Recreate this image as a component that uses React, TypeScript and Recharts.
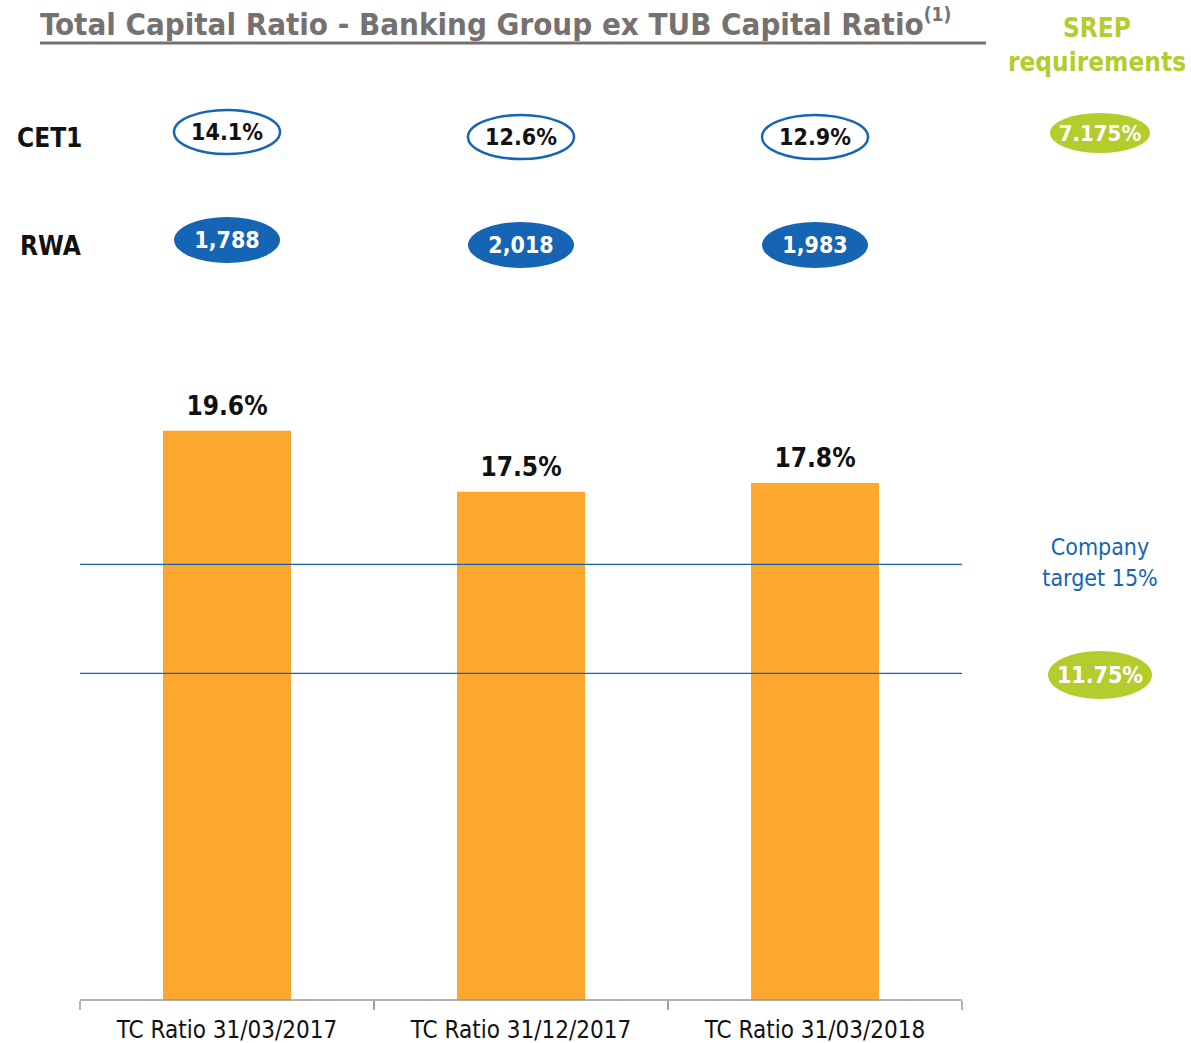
import { BarChart, Bar, XAxis, YAxis, ReferenceLine, LabelList } from 'recharts';

const categories = ['TC Ratio 31/03/2017', 'TC Ratio 31/12/2017', 'TC Ratio 31/03/2018'];
const tcRatio = [19.6, 17.5, 17.8];
const cet1 = ['14.1%', '12.6%', '12.9%'];
const rwa = ['1,788', '2,018', '1,983'];
const targetLines = [15, 11.25];

const data = categories.map((name, i) => ({ name, tc: tcRatio[i], cet1: cet1[i], rwa: rwa[i] }));

const FONT = '"DejaVu Sans Condensed", "DejaVu Sans", sans-serif';
const BLUE = '#1565b4';
const GREEN = '#b5cc2e';
const ORANGE = '#fca82f';
const ovalDy = [-4, 1, 1];

const ValueLabel = (props: any) => {
  const { x, y, width, value } = props;
  return (
    <text x={x + width / 2} y={y - 16} textAnchor="middle" fontFamily={FONT} fontWeight="bold" fontSize={26} fill="#111">
      {`${value}%`}
    </text>
  );
};

const Cet1Oval = (props: any) => {
  const { x, width, value, index } = props;
  const cx = x + width / 2;
  const cy = 136 + ovalDy[index];
  return (
    <g>
      <ellipse cx={cx} cy={cy} rx={53} ry={22} fill="#fff" stroke={BLUE} strokeWidth={2.5} />
      <text x={cx} y={cy + 8} textAnchor="middle" fontFamily={FONT} fontWeight="bold" fontSize={23} fill="#111">
        {value}
      </text>
    </g>
  );
};

const RwaOval = (props: any) => {
  const { x, width, value, index } = props;
  const cx = x + width / 2;
  const cy = 244 + ovalDy[index];
  return (
    <g>
      <ellipse cx={cx} cy={cy} rx={53} ry={23} fill={BLUE} />
      <text x={cx} y={cy + 8} textAnchor="middle" fontFamily={FONT} fontWeight="bold" fontSize={23} fill="#fff">
        {value}
      </text>
    </g>
  );
};

const AxisTick = (props: any) => {
  const { x, y, payload } = props;
  return (
    <g>
      <line x1={x - 147} y1={y - 7} x2={x - 147} y2={y + 2} stroke="#999" strokeWidth={1.5} />
      <line x1={x + 147} y1={y - 7} x2={x + 147} y2={y + 2} stroke="#999" strokeWidth={1.5} />
      <text x={x} y={y + 30} textAnchor="middle" fontFamily={FONT} fontSize={24} fill="#111">
        {payload.value}
      </text>
    </g>
  );
};

export default function App() {
  return (
    <div style={{ position: 'absolute', left: 0, top: 0, width: 1191, height: 1043, background: '#fff', fontFamily: FONT }}>
      <BarChart width={1191} height={1043} data={data} margin={{ top: 303, right: 229, bottom: 0, left: 80 }} barSize={128} style={{ overflow: 'visible' }}>
        <XAxis dataKey="name" axisLine={{ stroke: '#999', strokeWidth: 1.5 }} tickLine={false} tick={<AxisTick />} interval={0} height={43} />
        <YAxis hide domain={[0, 24]} />
        {targetLines.map((v) => (
          <ReferenceLine key={v} y={v} stroke={BLUE} strokeWidth={1.3} />
        ))}
        <Bar dataKey="tc" fill={ORANGE} isAnimationActive={false}>
          <LabelList dataKey="tc" content={<ValueLabel />} />
          <LabelList dataKey="cet1" content={<Cet1Oval />} />
          <LabelList dataKey="rwa" content={<RwaOval />} />
        </Bar>
      </BarChart>

      <svg width={1191} height={1043} style={{ position: 'absolute', left: 0, top: 0, pointerEvents: 'none' }}>
        <text x={40} y={35} fontFamily={FONT} fontWeight="bold" fontSize={31} fill="#767171">
          Total Capital Ratio - Banking Group ex TUB Capital Ratio
          <tspan fontSize={19} dy={-14}>(1)</tspan>
        </text>
        <line x1={40} y1={43} x2={986} y2={43} stroke="#767171" strokeWidth={3} />
        <text x={1097} y={37} textAnchor="middle" fontFamily={FONT} fontWeight="bold" fontSize={26} fill={GREEN}>SREP</text>
        <text x={1097} y={71} textAnchor="middle" fontFamily={FONT} fontWeight="bold" fontSize={26} fill={GREEN}>requirements</text>

        <text x={17} y={147} fontFamily={FONT} fontWeight="bold" fontSize={26} fill="#111">CET1</text>
        <text x={20} y={255} fontFamily={FONT} fontWeight="bold" fontSize={26} fill="#111">RWA</text>

        <ellipse cx={1100} cy={133} rx={50} ry={20} fill={GREEN} />
        <text x={1100} y={141} textAnchor="middle" fontFamily={FONT} fontWeight="bold" fontSize={22} fill="#fff">7.175%</text>

        <text x={1100} y={555} textAnchor="middle" fontFamily={FONT} fontSize={23} fill={BLUE}>Company</text>
        <text x={1100} y={586} textAnchor="middle" fontFamily={FONT} fontSize={23} fill={BLUE}>target 15%</text>

        <ellipse cx={1100} cy={675} rx={52} ry={24} fill={GREEN} />
        <text x={1100} y={683} textAnchor="middle" fontFamily={FONT} fontWeight="bold" fontSize={23} fill="#fff">11.75%</text>
      </svg>
    </div>
  );
}
